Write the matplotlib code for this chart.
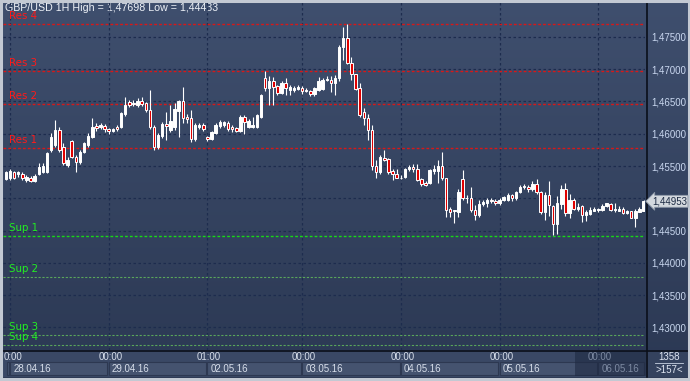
import numpy as np
import matplotlib.pyplot as plt
from matplotlib.colors import LinearSegmentedColormap
from matplotlib.patches import Rectangle
from matplotlib.transforms import blended_transform_factory
from matplotlib.ticker import FuncFormatter

# hourly GBP/USD candles (oldest first)
opens = [1.4530, 1.4531, 1.4541, 1.4537, 1.4538, 1.4528, 1.4531, 1.4526, 1.4538, 1.4541,
         1.4541, 1.4575, 1.4582, 1.4606, 1.4580, 1.4551, 1.4589, 1.4564, 1.4556, 1.4572,
         1.4582, 1.4595, 1.4612, 1.4610, 1.4612, 1.4607, 1.4605, 1.4610, 1.4611, 1.4631,
         1.4649, 1.4646, 1.4644, 1.4651, 1.4647, 1.4637, 1.4611, 1.4580, 1.4596, 1.4615,
         1.4606, 1.4611, 1.4636, 1.4651, 1.4626, 1.4625, 1.4592, 1.4611, 1.4613, 1.4595,
         1.4592, 1.4601, 1.4612, 1.4614, 1.4617, 1.4611, 1.4609, 1.4605, 1.4626, 1.4611,
         1.4611, 1.4611, 1.4626, 1.4686, 1.4671, 1.4681, 1.4674, 1.4663, 1.4678, 1.4668,
         1.4668, 1.4670, 1.4671, 1.4666, 1.4666, 1.4661, 1.4668, 1.4670, 1.4684, 1.4683,
         1.4678, 1.4686, 1.4735, 1.4749, 1.4709, 1.4692, 1.4671, 1.4634, 1.4624, 1.4606,
         1.4550, 1.4540, 1.4563, 1.4561, 1.4543, 1.4537, 1.4531, 1.4533, 1.4545, 1.4549,
         1.4546, 1.4530, 1.4524, 1.4523, 1.4543, 1.4542, 1.4550, 1.4531, 1.4483, 1.4480,
         1.4479, 1.4530, 1.4500, 1.4501, 1.4482, 1.4474, 1.4491, 1.4493, 1.4498, 1.4496,
         1.4492, 1.4497, 1.4498, 1.4505, 1.4500, 1.4510, 1.4517, 1.4518, 1.4514, 1.4522,
         1.4510, 1.4479, 1.4505, 1.4488, 1.4460, 1.4491, 1.4515, 1.4477, 1.4497, 1.4484,
         1.4488, 1.4474, 1.4476, 1.4481, 1.4482, 1.4482, 1.4488, 1.4491, 1.4482, 1.4481,
         1.4483, 1.4477, 1.4480, 1.4470, 1.4479, 1.4481]
highs = [1.4543, 1.4545, 1.4543, 1.4543, 1.4540, 1.4536, 1.4534, 1.4538, 1.4554, 1.4554,
         1.4572, 1.4601, 1.4621, 1.4611, 1.4585, 1.4564, 1.4590, 1.4567, 1.4575, 1.4587,
         1.4601, 1.4625, 1.4617, 1.4616, 1.4615, 1.4609, 1.4609, 1.4613, 1.4634, 1.4657,
         1.4652, 1.4652, 1.4655, 1.4657, 1.4649, 1.4668, 1.4614, 1.4601, 1.4618, 1.4634,
         1.4644, 1.4647, 1.4652, 1.4673, 1.4631, 1.4637, 1.4616, 1.4617, 1.4617, 1.4597,
         1.4604, 1.4617, 1.4621, 1.4620, 1.4620, 1.4613, 1.4611, 1.4629, 1.4629, 1.4623,
         1.4626, 1.4631, 1.4662, 1.4697, 1.4690, 1.4688, 1.4676, 1.4681, 1.4686, 1.4676,
         1.4674, 1.4676, 1.4674, 1.4671, 1.4668, 1.4673, 1.4688, 1.4686, 1.4689, 1.4689,
         1.4691, 1.4738, 1.4766, 1.47698, 1.4719, 1.4692, 1.4678, 1.4640, 1.4630, 1.4613,
         1.4559, 1.4567, 1.4575, 1.4562, 1.4546, 1.4545, 1.4536, 1.4547, 1.4551, 1.4553,
         1.4553, 1.4531, 1.4527, 1.4546, 1.4551, 1.4559, 1.4572, 1.4532, 1.4487, 1.4482,
         1.4514, 1.4544, 1.4505, 1.4518, 1.4489, 1.4497, 1.4497, 1.4501, 1.4500, 1.4499,
         1.4501, 1.4504, 1.4508, 1.4507, 1.4512, 1.4521, 1.4522, 1.4521, 1.4527, 1.4530,
         1.4512, 1.4510, 1.4526, 1.4489, 1.4504, 1.4521, 1.4523, 1.4506, 1.4500, 1.4493,
         1.4489, 1.4482, 1.4487, 1.4486, 1.4485, 1.4491, 1.4493, 1.4493, 1.4492, 1.4488,
         1.4487, 1.4482, 1.4481, 1.4484, 1.4486, 1.4498]
lows = [1.4529, 1.4529, 1.4530, 1.4533, 1.4528, 1.4525, 1.4525, 1.4525, 1.4536, 1.4539,
        1.4539, 1.4571, 1.4580, 1.4572, 1.4551, 1.4549, 1.4563, 1.4541, 1.4553, 1.4570,
        1.4580, 1.4593, 1.4605, 1.4607, 1.4603, 1.4600, 1.4603, 1.4604, 1.4609, 1.4628,
        1.4641, 1.4643, 1.4641, 1.4643, 1.4634, 1.4608, 1.4575, 1.4577, 1.4594, 1.4590,
        1.4603, 1.4606, 1.4595, 1.4616, 1.4617, 1.4587, 1.4588, 1.4607, 1.4604, 1.4589,
        1.4590, 1.4600, 1.4609, 1.4610, 1.4605, 1.4602, 1.4603, 1.4603, 1.4600, 1.4609,
        1.4609, 1.4609, 1.4624, 1.4666, 1.4644, 1.4644, 1.4660, 1.4661, 1.4660, 1.4660,
        1.4665, 1.4668, 1.4662, 1.4664, 1.4659, 1.4659, 1.4666, 1.4668, 1.4681, 1.4665,
        1.4660, 1.4681, 1.4714, 1.4708, 1.4683, 1.4668, 1.4626, 1.4614, 1.4590, 1.4544,
        1.4531, 1.4537, 1.4557, 1.4537, 1.4528, 1.4531, 1.4530, 1.4532, 1.4543, 1.4541,
        1.4526, 1.4519, 1.4519, 1.4522, 1.4537, 1.4523, 1.4528, 1.4471, 1.4471, 1.4462,
        1.4471, 1.4497, 1.4492, 1.4479, 1.4466, 1.4471, 1.4488, 1.4487, 1.4492, 1.4489,
        1.4490, 1.4496, 1.4496, 1.4496, 1.4497, 1.4508, 1.4514, 1.4510, 1.4512, 1.4507,
        1.4475, 1.4467, 1.4472, 1.44433, 1.4444, 1.4484, 1.4473, 1.4469, 1.4482, 1.4480,
        1.4463, 1.4465, 1.4474, 1.4480, 1.4479, 1.4480, 1.4487, 1.4480, 1.4479, 1.4480,
        1.4475, 1.4476, 1.4469, 1.4456, 1.4478, 1.4480]
closes = [1.4541, 1.4543, 1.4532, 1.4541, 1.4531, 1.4533, 1.4526, 1.4534, 1.4549, 1.4550,
          1.4570, 1.4595, 1.4606, 1.4575, 1.4554, 1.4559, 1.4564, 1.4556, 1.4572, 1.4585,
          1.4596, 1.4611, 1.4609, 1.4613, 1.4607, 1.4605, 1.4607, 1.4607, 1.4632, 1.4644,
          1.4644, 1.4648, 1.4651, 1.4646, 1.4637, 1.4611, 1.4580, 1.4598, 1.4615, 1.4612,
          1.4620, 1.4638, 1.4651, 1.4624, 1.4623, 1.4592, 1.4613, 1.4613, 1.4608, 1.4592,
          1.4603, 1.4613, 1.4618, 1.4618, 1.4608, 1.4607, 1.4605, 1.4626, 1.4618, 1.4619,
          1.4613, 1.4629, 1.4660, 1.4671, 1.4681, 1.4673, 1.4663, 1.4678, 1.4671, 1.4673,
          1.4671, 1.4672, 1.4666, 1.4668, 1.4661, 1.4671, 1.4681, 1.4683, 1.4685, 1.4678,
          1.4687, 1.4735, 1.4749, 1.4709, 1.4692, 1.4669, 1.4629, 1.4624, 1.4606, 1.4550,
          1.4540, 1.4564, 1.4559, 1.4541, 1.4537, 1.4532, 1.4532, 1.4545, 1.4549, 1.4545,
          1.4528, 1.4522, 1.4520, 1.4544, 1.4545, 1.4550, 1.4531, 1.4482, 1.4479, 1.4482,
          1.4510, 1.4500, 1.4501, 1.4482, 1.4474, 1.4491, 1.4494, 1.4498, 1.4495, 1.4492,
          1.4498, 1.4502, 1.4505, 1.4501, 1.4510, 1.4517, 1.4519, 1.4514, 1.4522, 1.4510,
          1.4479, 1.4505, 1.4489, 1.4460, 1.4492, 1.4515, 1.4477, 1.4497, 1.4484, 1.4487,
          1.4474, 1.4478, 1.4482, 1.4483, 1.4483, 1.4488, 1.4492, 1.4482, 1.4483, 1.4484,
          1.4477, 1.4480, 1.4470, 1.4480, 1.4483, 1.44953]

level_names = ['Res 4', 'Res 3', 'Res 2', 'Res 1', 'Sup 1', 'Sup 2', 'Sup 3', 'Sup 4']
level_values = [1.4770, 1.4697, 1.4646, 1.4578, 1.4442, 1.4378, 1.4288, 1.4272]

price_ticks = [1.430, 1.435, 1.440, 1.445, 1.450, 1.455, 1.460, 1.465, 1.470, 1.475]
day_start_bars = [1, 25, 49, 72, 96, 120, 144]
time_labels = ['00:00', '00:00', '01:00', '00:00', '00:00', '00:00', '00:00']
date_labels = ['28.04.16', '29.04.16', '02.05.16', '03.05.16', '04.05.16', '05.05.16', '06.05.16']
title = 'GBP/USD 1H High = 1,47698 Low = 1,44433'
last_price = closes[-1]

W, H = 690, 381
fig = plt.figure(figsize=(W / 100, H / 100), dpi=100)

# background layer in pixel coordinates
bg = fig.add_axes([0, 0, 1, 1])
bg.set_xlim(0, W)
bg.set_ylim(H, 0)
bg.axis('off')
grad = LinearSegmentedColormap.from_list('bg', ['#2b3853', '#3f4f6e'])
bg.imshow(np.linspace(0, 1, 256).reshape(-1, 1), extent=[0, W, H, 0], origin='lower',
          cmap=grad, aspect='auto', zorder=0)
bg.add_patch(Rectangle((0, 350), W, 27, fc='#3a4865', ec='none', zorder=1))
bg.add_patch(Rectangle((647, 350), 43, 27, fc='#34425e', ec='none', zorder=2))
bg.plot([0, W], [350.5, 350.5], color='#0a0f1a', lw=1.2, zorder=5)
bg.plot([646.5, 646.5], [0, 377], color='#0a0f1a', lw=1.2, zorder=5)
bg.plot([655, 683], [363, 363], color='#c8d2e2', lw=0.6, zorder=5)
bg.text(669, 357, '1358', ha='center', va='center', fontsize=7, color='#dfe6f2',
        family='Liberation Sans', zorder=6)
bg.text(669, 370, '>157<', ha='center', va='center', fontsize=7, color='#dfe6f2',
        family='Liberation Sans', zorder=6)
bg.text(5, 8, title, ha='left', va='center', fontsize=7.7, color='#eef2f8',
        family='Liberation Sans', zorder=6)
bg.add_patch(Rectangle((1, 1), W - 2, H - 3, fc='none', ec='#c3c9d3', lw=2.2, zorder=7))

# main price chart
ax = fig.add_axes([3 / W, 31 / H, 642 / W, 348 / H])
ax.set_facecolor('none')
ax.set_xlim(-0.70, 155.35)
ax.set_ylim(1.42648, 1.48042)
for s in ax.spines.values():
    s.set_visible(False)


def price_fmt(v, pos):
    # the 1,45000 label sits under the last-price tag in the original
    if abs(v - 1.450) < 1e-6:
        return ''
    return f'{v:.5f}'.replace('.', ',')


ax.set_yticks(price_ticks)
ax.set_xticks(day_start_bars)
ax.yaxis.tick_right()
ax.yaxis.set_major_formatter(FuncFormatter(price_fmt))
ax.tick_params(axis='y', length=0, pad=4.5, labelsize=7, labelcolor='#c9d7ef')
ax.tick_params(axis='x', length=0, labelbottom=False)
for lab in ax.get_yticklabels():
    lab.set_family('Liberation Sans')
ax.grid(True, color='#1d2c4e', lw=0.9, ls=(0, (2, 2)))

# support / resistance levels
for name, val in zip(level_names, level_values):
    if name.startswith('Res'):
        lc, tc, lw = '#d81818', '#ff1a1a', 1.0
    elif name == 'Sup 1':
        lc, tc, lw = '#18d818', '#22ee22', 1.0
    else:
        lc, tc, lw = '#5aa65a', '#22ee22', 0.8
    ax.axhline(val, color=lc, lw=lw, ls=(0, (2, 1.5)), zorder=2)
    ax.annotate(name, xy=(0, val), xycoords=('axes fraction', 'data'),
                xytext=(6, 5), textcoords='offset pixels', ha='left', va='baseline',
                fontsize=7.4, color=tc, zorder=6)

# candles
x = np.arange(len(opens))
o = np.array(opens)
c = np.array(closes)
up = c >= o
ax.vlines(x, lows, highs, color='white', lw=0.8, zorder=3)
ax.bar(x, np.maximum(np.abs(c - o), 0.00004), bottom=np.minimum(o, c), width=0.6,
       color=np.where(up, 'white', '#e00000'), edgecolor='white', linewidth=0.7, zorder=4)

# last price tag
ax.annotate(f'{last_price:.5f}'.replace('.', ','), xy=(1, last_price),
            xycoords=('axes fraction', 'data'), xytext=(7, 0), textcoords='offset pixels',
            ha='left', va='center', fontsize=7, color='#1b2942', family='Liberation Sans',
            annotation_clip=False, zorder=8,
            bbox=dict(boxstyle='larrow,pad=0.1', fc='#d3d8de', ec='#8e99a8', lw=0.6))

# time axis
tr = blended_transform_factory(ax.transData, bg.transData)
edges = day_start_bars + [155.35]
for i, k in enumerate(day_start_bars):
    bg.add_patch(Rectangle((k, 362), edges[i + 1] - k - 0.3, 13, transform=tr,
                           fc='#45536f', ec='#2d3851', lw=0.8, zorder=2))
bg.add_patch(Rectangle((0.2, 362), day_start_bars[0] - 0.5, 13, transform=tr,
                       fc='#45536f', ec='#2d3851', lw=0.8, zorder=2))
bg.add_patch(Rectangle((575, 351), 71, 25, fc='#1f2a42', ec='none', alpha=0.6, zorder=4))
for i, k in enumerate(day_start_bars):
    col = '#7d8aa2' if i == len(day_start_bars) - 1 else '#d7deea'
    if i == 0:
        bg.text(4, 357, time_labels[i][1:], ha='left', va='center', fontsize=7,
                color=col, family='Liberation Sans', zorder=6)
    else:
        bg.text(k + 0.4, 357, time_labels[i], transform=tr, ha='center', va='center',
                fontsize=7, color=col, family='Liberation Sans', zorder=6)
    bg.text(k + 0.8, 369, date_labels[i], transform=tr, ha='left', va='center',
            fontsize=7, color=col, family='Liberation Sans', zorder=6)

fig.savefig('out.png', dpi=100)
